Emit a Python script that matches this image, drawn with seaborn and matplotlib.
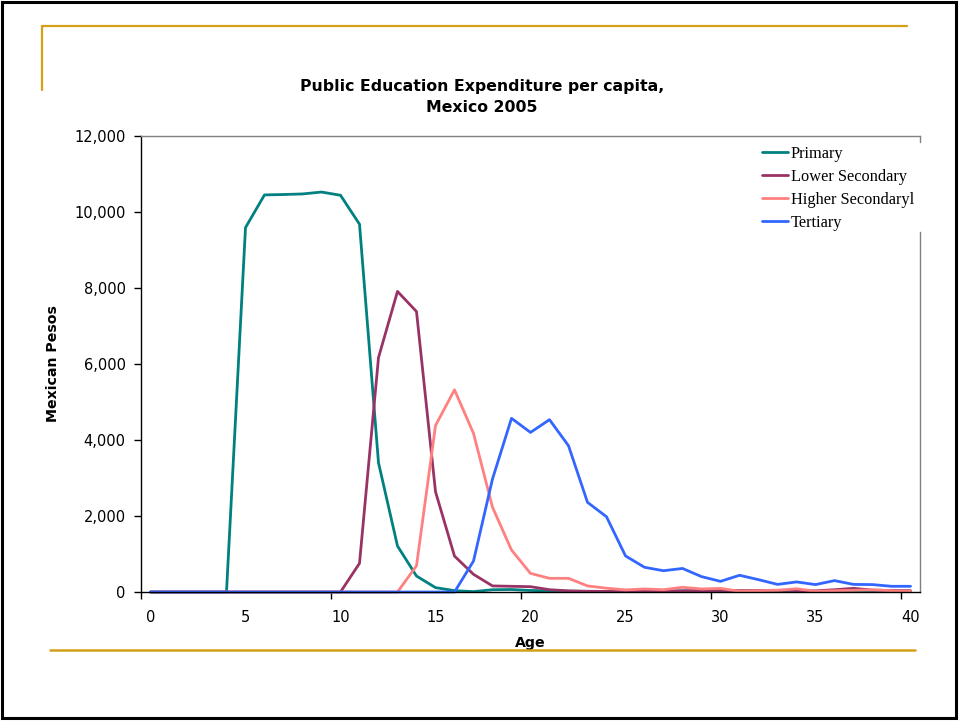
import matplotlib
matplotlib.use("Agg")
import matplotlib.pyplot as plt
import matplotlib.ticker as mticker
from matplotlib.patches import Rectangle
from matplotlib.lines import Line2D
import seaborn as sns
import pandas as pd

ages = list(range(0, 41))
primary = [0, 0, 0, 0, 0, 9590, 10450, 10460, 10475, 10525, 10440, 9680, 3400, 1210,
           420, 115, 35, 10, 60, 65, 40, 30, 20, 15, 10, 10, 15, 20, 30, 25, 35, 20, 15,
           20, 10, 15, 20, 25, 30, 35, 30]
lower_secondary = [0] * 11 + [755, 6170, 7910, 7380, 2640, 945, 465, 160, 150, 140, 60, 30,
                              20, 15, 15, 20, 25, 30, 35, 40, 35, 40, 45, 40, 30, 60, 95,
                              50, 40, 30]
higher_secondary = [0] * 14 + [690, 4380, 5320, 4175, 2230, 1105, 490, 360, 360, 160, 100,
                               55, 80, 60, 125, 80, 95, 20, 35, 45, 85, 20, 35, 45, 55, 35, 25]
tertiary = [0] * 17 + [815, 2975, 4570, 4200, 4535, 3850, 2360, 1980, 950, 650, 560, 620,
                       405, 280, 440, 325, 200, 265, 195, 300, 200, 195, 150, 150]

series_names = ["Primary", "Lower Secondary", "Higher Secondaryl", "Tertiary"]
series_values = [primary, lower_secondary, higher_secondary, tertiary]
colors = ["#008080", "#993366", "#FF8080", "#3366FF"]
x_tick_labels = ["0", "5", "10", "15", "20", "25", "30", "35", "40"]

rows = []
for name, vals in zip(series_names, series_values):
    for a, v in zip(ages, vals):
        rows.append({"Age": a, "Value": v, "Series": name})
df = pd.DataFrame(rows)

sns.set_style("white")
plt.rcParams["font.family"] = ["DejaVu Sans"]
plt.rcParams["text.color"] = "black"
plt.rcParams["axes.labelcolor"] = "black"
plt.rcParams["xtick.color"] = "black"
plt.rcParams["ytick.color"] = "black"

fig = plt.figure(figsize=(9.6, 7.21), dpi=100)
ax = fig.add_axes([141 / 960, 1 - 592 / 721, 779 / 960, 456 / 721])

sns.lineplot(data=df, x="Age", y="Value", hue="Series", hue_order=series_names,
             palette=colors, linewidth=2.0, ax=ax, legend=False, clip_on=False)

ax.set_xlim(-0.5, 40.5)
ax.set_ylim(0, 12000)
ax.set_yticks(range(0, 12001, 2000))
ax.yaxis.set_major_formatter(mticker.FuncFormatter(lambda v, p: f"{int(v):,}"))
ax.set_xticks([int(t) for t in x_tick_labels])
ax.set_xticklabels(x_tick_labels)
ax.set_xticks([-0.5, 9.5, 19.5, 29.5, 39.5], minor=True)
ax.tick_params(axis="x", which="major", length=0, pad=13, labelsize=10.5,
               labelcolor="black")
ax.tick_params(axis="x", which="minor", length=5, width=1, direction="out", color="black",
               bottom=True)
ax.tick_params(axis="y", which="major", length=5, width=1, direction="out", pad=6,
               labelsize=10.5, color="black", labelcolor="black", left=True)

for s in ["left", "bottom"]:
    ax.spines[s].set_color("black")
    ax.spines[s].set_linewidth(1.0)
for s in ["top", "right"]:
    ax.spines[s].set_color("#808080")
    ax.spines[s].set_linewidth(1.0)
ax.spines["right"].set_bounds(0, 9470)
ax.plot([1, 1], [1 - 6 / 456, 1], transform=ax.transAxes, color="#808080", lw=1.0,
        clip_on=False)

ax.set_ylabel("Mexican Pesos", fontsize=10.2, fontweight="bold", color="black")
ax.yaxis.set_label_coords((60 - 141) / 779, 0.5)
ax.set_xlabel("Age", fontsize=10.2, fontweight="bold", va="center", color="black")
ax.xaxis.set_label_coords(0.5, (592 - 643) / 456)

handles = [Line2D([0], [0], color=c, lw=2.0) for c in colors]
leg = ax.legend(handles, series_names, loc="upper left",
                bbox_to_anchor=((762 - 141) / 779, 1 - (146 - 136) / 456),
                frameon=False, prop={"family": "Liberation Serif", "size": 11.8},
                handlelength=1.6, handletextpad=0.15, labelspacing=0.42, borderpad=0,
                borderaxespad=0)
for t in leg.get_texts():
    t.set_color("black")

fig.text(482 / 960, 1 - 97.5 / 721, "Public Education Expenditure per capita,\nMexico 2005",
         ha="center", va="center", fontsize=11.3, fontweight="bold", linespacing=1.5,
         color="black")

gold = "#D4A017"
fig.add_artist(Line2D([42 / 960, 907 / 960], [1 - 26 / 721, 1 - 26 / 721], color=gold, lw=1.6))
fig.add_artist(Line2D([42 / 960, 42 / 960], [1 - 26 / 721, 1 - 90 / 721], color=gold, lw=1.6))
fig.add_artist(Line2D([50 / 960, 915 / 960], [1 - 650 / 721, 1 - 650 / 721], color=gold, lw=1.8))
fig.add_artist(Rectangle((2 / 960, 3 / 721), 954 / 960, 716 / 721, fill=False,
                         edgecolor="black", lw=2.2, transform=fig.transFigure))

fig.savefig("out.png", dpi=100)
